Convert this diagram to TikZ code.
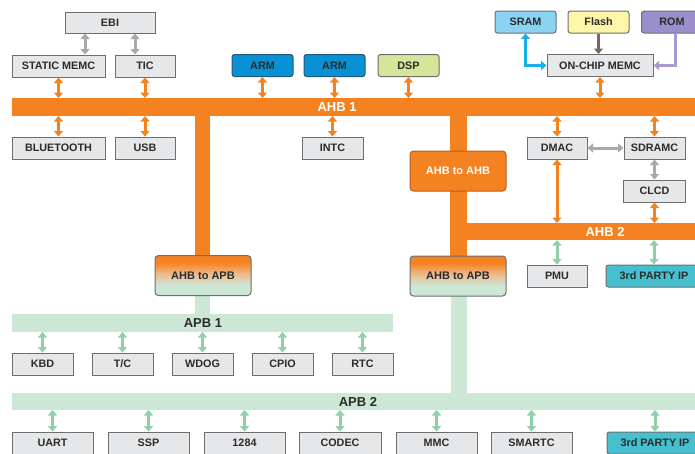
\documentclass[tikz,border=0pt]{standalone}
\usepackage{fontspec}
\setmainfont{Liberation Sans}
\usetikzlibrary{arrows.meta}
\definecolor{ahbor}{HTML}{F58220}
\definecolor{ahbdark}{HTML}{B8601C}
\definecolor{apbgr}{HTML}{CDE7D6}
\definecolor{peach}{HTML}{EDBB8E}
\definecolor{grarr}{HTML}{8FD0A8}
\definecolor{boxfill}{HTML}{E6E7E9}
\definecolor{boxline}{HTML}{6D6E70}
\definecolor{txt}{HTML}{2B2B2B}
\definecolor{armblue}{HTML}{0891D5}
\definecolor{armline}{HTML}{1F5A80}
\definecolor{dspgreen}{HTML}{D5E59A}
\definecolor{sramblue}{HTML}{8BD3F3}
\definecolor{flashy}{HTML}{FDF6A8}
\definecolor{romv}{HTML}{9B8FCB}
\definecolor{teal}{HTML}{46C0CE}
\definecolor{grayarr}{HTML}{A8A9AB}
\definecolor{bluearr}{HTML}{1AAEE8}
\definecolor{brownarr}{HTML}{7B6560}
\definecolor{purparr}{HTML}{A99AD2}
\pgfdeclareverticalshading{bridgeshade}{100bp}{color(0bp)=(apbgr); color(25bp)=(apbgr); color(38bp)=(apbgr); color(52bp)=(peach); color(66bp)=(ahbor); color(75bp)=(ahbor); color(100bp)=(ahbor)}
\begin{document}
\begin{tikzpicture}[x=1pt,y=-1pt,
  box/.style={draw=boxline, fill=boxfill, line width=1pt, minimum height=22pt, inner sep=0pt,
    font=\fontsize{10.8}{12}\selectfont\bfseries, text=txt},
  cbox/.style={box, rounded corners=2.5pt},
  bridge/.style={box, rounded corners=3.5pt, minimum width=96pt, minimum height=40pt, font=\fontsize{11}{13}\selectfont\bfseries},
  barnode/.style={inner sep=0pt, outer sep=0pt, anchor=north west},
  barlabel/.style={inner sep=0pt, font=\fontsize{13}{15}\selectfont\bfseries},
  tip/.tip={Triangle[width=9pt,length=5.5pt]},
  arr/.style={line width=3pt, tip-tip},
  oarr/.style={arr, draw=ahbor},
  garr/.style={arr, draw=grarr},
  grayar/.style={arr, draw=grayarr},
]
\useasboundingbox (0,0) rectangle (695,453);
% ---------- buses ----------
\node[barnode, fill=ahbor, minimum width=683pt, minimum height=18pt] (ahb1) at (12,98) {};
\node[barnode, fill=ahbor, minimum width=228pt, minimum height=17pt] (ahb2) at (467,223) {};
\node[barnode, fill=apbgr, minimum width=381pt, minimum height=18pt] (apb1) at (12,314) {};
\node[barnode, fill=apbgr, minimum width=683pt, minimum height=17pt] (apb2) at (12,393) {};
\fill[ahbor] (195,110) rectangle (210,258);
\fill[ahbor] (450,110) rectangle (467,258);
\fill[apbgr] (195,293) rectangle (210,316);
\fill[apbgr] (451,294) rectangle (467,395);
\node[barlabel, text=white] (lahb1) at (337,107.5) {AHB 1};
\node[barlabel, text=white] (lahb2) at (605,232) {AHB 2};
\node[barlabel, text=txt] (lapb1) at (203,323.5) {APB 1};
\node[barlabel, text=txt] (lapb2) at (358,402) {APB 2};
% ---------- bridges ----------
\node[bridge, shading=bridgeshade, draw=boxline] (apbL) at (203,275.5) {AHB to APB};
\node[bridge, fill=ahbor, draw=ahbdark, text=white] (ahbahb) at (458,171) {AHB to AHB};
\node[bridge, shading=bridgeshade, draw=boxline] (apbR) at (458,276) {AHB to APB};
% ---------- top-left ----------
\node[box, minimum width=90pt, minimum height=21pt] (ebi) at (110,22.5) {EBI};
\node[box, minimum width=93pt] (smemc) at (58.5,66) {STATIC MEMC};
\node[box, minimum width=60pt] (tic) at (145,66) {TIC};
\node[box, minimum width=93pt] (bt) at (58.5,148) {BLUETOOTH};
\node[box, minimum width=60pt] (usb) at (145,148) {USB};
% ---------- processors ----------
\node[cbox, fill=armblue, draw=armline, minimum width=61pt] (arm1) at (262.5,65.5) {ARM};
\node[cbox, fill=armblue, draw=armline, minimum width=61pt] (arm2) at (334.5,65.5) {ARM};
\node[cbox, fill=dspgreen, draw=boxline, minimum width=61pt] (dsp) at (408.5,65.5) {DSP};
\node[box, minimum width=61pt] (intc) at (332.5,148) {INTC};
% ---------- memories ----------
\node[cbox, fill=sramblue, draw=boxline, minimum width=61pt] (sram) at (525.5,22) {SRAM};
\node[cbox, fill=flashy, draw=boxline, minimum width=61pt] (flash) at (598.5,22) {Flash};
\node[cbox, fill=romv, draw=boxline, minimum width=61pt] (rom) at (672,22) {ROM};
\node[box, minimum width=106pt] (onchip) at (600,65.5) {ON-CHIP MEMC};
\node[box, minimum width=60pt] (dmac) at (557,148) {DMAC};
\node[box, minimum width=61pt] (sdramc) at (654.5,148) {SDRAMC};
\node[box, minimum width=62pt] (clcd) at (654.5,191) {CLCD};
\node[box, minimum width=60pt] (pmu) at (557,276) {PMU};
\node[cbox, fill=teal, draw=boxline, minimum width=96pt] (ipa) at (654,276) {3rd PARTY IP};
% ---------- APB1 peripherals ----------
\node[box, minimum width=61pt] (kbd) at (42.5,364) {KBD};
\node[box, minimum width=61pt] (tc) at (122.5,364) {T/C};
\node[box, minimum width=61pt] (wdog) at (202.5,364) {WDOG};
\node[box, minimum width=61pt] (cpio) at (282.5,364) {CPIO};
\node[box, minimum width=61pt] (rtc) at (362.5,364) {RTC};
% ---------- APB2 peripherals ----------
\node[box, minimum width=81pt] (uart) at (52.5,443) {UART};
\node[box, minimum width=81pt] (ssp) at (148.5,443) {SSP};
\node[box, minimum width=81pt] (p1284) at (244.5,443) {1284};
\node[box, minimum width=82pt] (codec) at (340,443) {CODEC};
\node[box, minimum width=81pt] (mmc) at (436.5,443) {MMC};
\node[box, minimum width=81pt] (smartc) at (531.5,443) {SMARTC};
\node[cbox, fill=teal, draw=boxline, minimum width=96pt] (ipb) at (655,443) {3rd PARTY IP};
% ---------- connectors ----------
\draw[grayar] ([xshift=-25pt]ebi.south) -- ([xshift=26.5pt]smemc.north);
\draw[grayar] ([xshift=25pt]ebi.south) -- ([xshift=-10pt]tic.north);
\foreach \n in {smemc,tic,arm1,arm2,dsp,onchip}
  \draw[oarr] (\n.south) -- (\n.south |- ahb1.north);
\foreach \n in {bt,usb,intc,dmac,sdramc}
  \draw[oarr] (\n.north) -- (\n.north |- ahb1.south);
\draw[grayar] (dmac.east) -- (sdramc.west);
\draw[grayar] (sdramc.south) -- (clcd.north);
\draw[oarr] (dmac.south) -- (dmac.south |- ahb2.north);
\draw[oarr] (clcd.south) -- (clcd.south |- ahb2.north);
\foreach \n in {pmu,ipa}
  \draw[garr] (\n.north) -- (\n.north |- ahb2.south);
\foreach \n in {kbd,tc,wdog,cpio,rtc}
  \draw[garr] (\n.north) -- (\n.north |- apb1.south);
\foreach \n in {uart,ssp,p1284,codec,mmc,smartc,ipb}
  \draw[garr] (\n.north) -- (\n.north |- apb2.south);
\draw[arr, draw=bluearr] (sram.south) |- (onchip.west);
\draw[line width=3pt, draw=brownarr, -tip] (flash.south) -- (flash.south |- onchip.north);
\draw[line width=3pt, draw=purparr, -tip] ([xshift=3pt]rom.south) |- (onchip.east);
\end{tikzpicture}
\end{document}
